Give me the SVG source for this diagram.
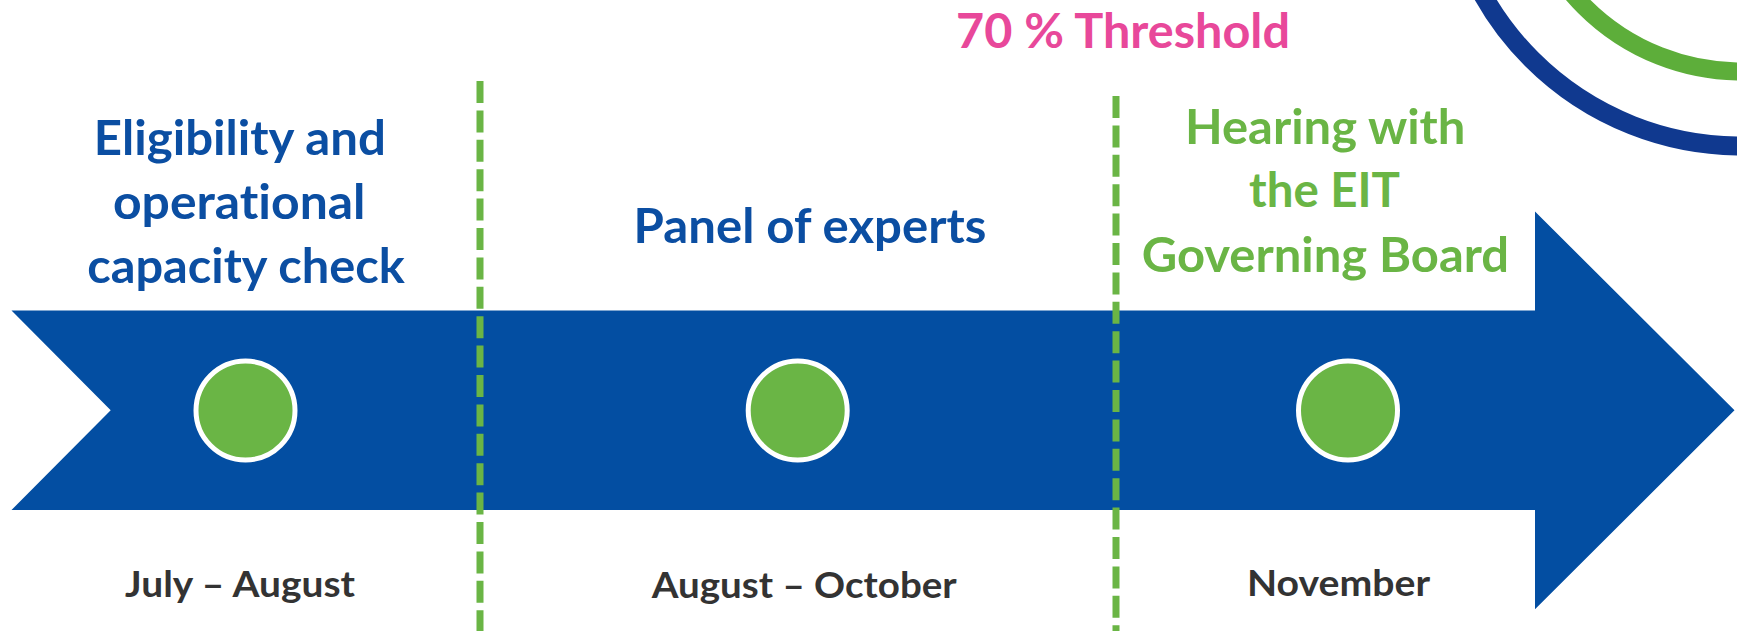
<svg xmlns="http://www.w3.org/2000/svg" width="1737" height="631" viewBox="0 0 1737 631">
<style>
.t{font-family:Lato,"Open Sans","Liberation Sans",sans-serif;font-weight:700;text-anchor:middle;font-variant-ligatures:none}
.title{font-size:48px;fill:#0B4EA2}
.green{font-size:48px;fill:#6AB545}
.pink{font-size:47px;fill:#E8489A}
.date{font-size:37px;fill:#333333}
.dot{fill:#6AB545;stroke:#FFFFFF;stroke-width:5}
.sep{stroke:#6AB545;stroke-width:7;stroke-dasharray:22 7.4;fill:none}
</style>
<rect width="1737" height="631" fill="#FFFFFF"/>
<g id="rings" fill="none">
  <circle cx="1741" cy="-150" r="296" stroke="#10398F" stroke-width="19"/>
  <circle cx="1741" cy="-150" r="221.5" stroke="#5DAE3A" stroke-width="18"/>
</g>
<g id="timeline-arrow">
  <polygon points="11.5,310.5 1535,310.5 1535,211.5 1734.5,410.3 1535,609.3 1535,510 11.5,510 110.7,410.3" fill="#034EA2"/>
</g>
<g id="connectors">
  <line class="sep" x1="480" y1="81" x2="480" y2="631"/>
  <line class="sep" x1="1116" y1="96" x2="1116" y2="631"/>
</g>
<g id="threshold">
  <text class="t pink" x="1123" y="47.7" textLength="334" lengthAdjust="spacingAndGlyphs">70 % Threshold</text>
</g>
<g id="stage1">
  <text class="t title" x="239.8" y="155" textLength="292" lengthAdjust="spacingAndGlyphs">Eligibility and</text>
  <text class="t title" x="239.2" y="219" textLength="252.6" lengthAdjust="spacingAndGlyphs">operational</text>
  <text class="t title" x="246" y="283" textLength="317.6" lengthAdjust="spacingAndGlyphs">capacity check</text>
  <circle class="dot" cx="245.5" cy="410.5" r="49.5"/>
  <text class="t date" x="240.1" y="596.7" textLength="230" lengthAdjust="spacingAndGlyphs">July – August</text>
</g>
<g id="stage2">
  <text class="t title" x="810" y="243" textLength="352.8" lengthAdjust="spacingAndGlyphs">Panel of experts</text>
  <circle class="dot" cx="797.7" cy="410.5" r="49.5"/>
  <text class="t date" x="804.2" y="597.7" textLength="305" lengthAdjust="spacingAndGlyphs">August – October</text>
</g>
<g id="stage3">
  <text class="t green" x="1325.2" y="144" textLength="280.4" lengthAdjust="spacingAndGlyphs">Hearing with</text>
  <text class="t green" x="1324.5" y="207" textLength="151" lengthAdjust="spacingAndGlyphs">the EIT</text>
  <text class="t green" x="1325.4" y="271.7" textLength="367.4" lengthAdjust="spacingAndGlyphs">Governing Board</text>
  <circle class="dot" cx="1348" cy="410.5" r="49.5"/>
  <text class="t date" x="1338.5" y="596" textLength="183" lengthAdjust="spacingAndGlyphs">November</text>
</g>
</svg>
